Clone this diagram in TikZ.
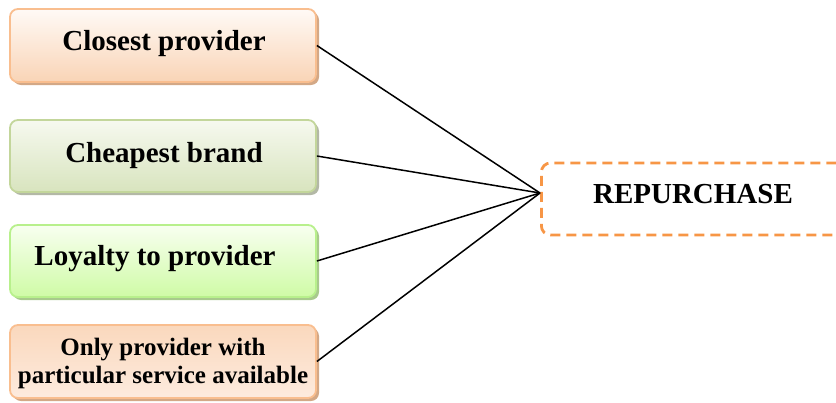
\documentclass[tikz,border=0pt]{standalone}
\usepackage{fontspec}
\setmainfont{Liberation Serif}
\usetikzlibrary{shadows}
\definecolor{peachB}{HTML}{F9BE8F}
\definecolor{peachT}{HTML}{FFFAF6}
\definecolor{peachD}{HTML}{F9D4B6}
\definecolor{peachS}{HTML}{D3A886}
\definecolor{oliveB}{HTML}{C3D69B}
\definecolor{oliveT}{HTML}{F6F9EF}
\definecolor{oliveD}{HTML}{D8E4BE}
\definecolor{oliveS}{HTML}{B3B8A6}
\definecolor{limeB}{HTML}{B8F08C}
\definecolor{limeT}{HTML}{F8FFF0}
\definecolor{limeD}{HTML}{CFFBA6}
\definecolor{limeS}{HTML}{A8CA8C}
\definecolor{peach4T}{HTML}{FAD8BD}
\definecolor{peach4D}{HTML}{FDEBDE}
\definecolor{repO}{HTML}{F79646}
\tikzset{
  factor/.style={rounded corners=8pt, minimum width=306pt, minimum height=73pt, line width=1.8pt, inner sep=0pt},
  boxtext/.style={font=\bfseries\fontsize{29}{32}\selectfont, inner sep=0pt, anchor=base},
  link/.style={black, line width=1.5pt},
}
\begin{document}
\begin{tikzpicture}[x=1pt,y=-1pt]
\useasboundingbox (0,0) rectangle (836,402);
\clip (0,0) rectangle (836,402);
\node[factor, draw=peachB, top color=peachT, bottom color=peachD,
  drop shadow={shadow xshift=3pt, shadow yshift=-3pt, fill=peachS, opacity=1}] (b1) at (163,45.5) {};
\node[factor, draw=oliveB, top color=oliveT, bottom color=oliveD, minimum height=72pt,
  drop shadow={shadow xshift=3pt, shadow yshift=-3pt, fill=oliveS, opacity=1}] (b2) at (163,156) {};
\node[factor, draw=limeB, top color=limeT, bottom color=limeD, minimum height=72pt,
  drop shadow={shadow xshift=3pt, shadow yshift=-3pt, fill=limeS, opacity=1}] (b3) at (163,261) {};
\node[factor, draw=peachB, top color=peach4T, bottom color=peach4D,
  drop shadow={shadow xshift=3pt, shadow yshift=-3pt, fill=peachS, opacity=1}] (b4) at (163,361.5) {};
\node[boxtext] (t1) at (164,50) {Closest provider};
\node[boxtext] (t2) at (164,162) {Cheapest brand};
\node[boxtext] (t3) at (155,265) {Loyalty to provider};
\node[boxtext, font=\bfseries\fontsize{25}{28}\selectfont] (t4a) at (163,355) {Only provider with};
\node[boxtext, font=\bfseries\fontsize{25}{28}\selectfont] (t4b) at (163,383) {particular service available};
\node[draw=repO, dashed, dash pattern=on 10pt off 6pt, line width=2.8pt, rounded corners=9pt,
  minimum width=320pt, minimum height=72pt, anchor=west] (rep) at (540,199) {};
\node[boxtext] (rt) at (693,203) {REPURCHASE};
\coordinate (hub) at (540,193);
\draw[link] (b1.east) -- (hub);
\draw[link] (b2.east) -- (hub);
\draw[link] (b3.east) -- (hub);
\draw[link] (b4.east) -- (hub);
\end{tikzpicture}
\end{document}
